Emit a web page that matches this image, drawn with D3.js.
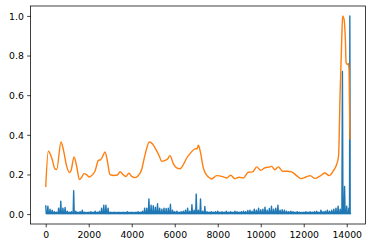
<!DOCTYPE html>
<html>
<head>
<meta charset="utf-8">
<script src="https://cdn.jsdelivr.net/npm/d3@7"></script>
<style>
    html, body { margin: 0; padding: 0; background: #fff; }
    svg { display: block; }
    .tick text { font-family: 'DejaVu Sans', sans-serif; font-size: 9.3px; fill: #000; }
</style>
</head>
<body>
<svg id="chart"></svg>
<script>
// blue series: peak per 100-step bin starting at 0
const blueStep = 100
const bluePeak = [
    0.045, 0.04, 0.025, 0.02, 0.012, 0.01, 0.03, 0.065, 0.03, 0.033,
    0.015, 0.01, 0.012, 0.118, 0.015, 0.01, 0.012, 0.02, 0.01, 0.008,
    0.01, 0.012, 0.01, 0.015, 0.01, 0.015, 0.03, 0.045, 0.045, 0.03,
    0.01, 0.008, 0.01, 0.008, 0.01, 0.008, 0.01, 0.008, 0.012, 0.008,
    0.01, 0.008, 0.01, 0.012, 0.01, 0.015, 0.03, 0.03, 0.076, 0.045,
    0.042, 0.035, 0.052, 0.03, 0.025, 0.03, 0.028, 0.03, 0.05, 0.02,
    0.012, 0.015, 0.01, 0.012, 0.015, 0.02, 0.03, 0.015, 0.047, 0.02,
    0.101, 0.02, 0.077, 0.015, 0.038, 0.012, 0.01, 0.012, 0.01, 0.012,
    0.015, 0.01, 0.012, 0.01, 0.015, 0.01, 0.012, 0.01, 0.015, 0.012,
    0.01, 0.012, 0.015, 0.012, 0.018, 0.02, 0.015, 0.025, 0.02, 0.03,
    0.022, 0.025, 0.035, 0.02, 0.028, 0.04, 0.025, 0.03, 0.045, 0.02,
    0.022, 0.02, 0.015, 0.012, 0.015, 0.012, 0.01, 0.012, 0.01, 0.008,
    0.01, 0.012, 0.01, 0.012, 0.01, 0.012, 0.015, 0.01, 0.02, 0.012,
    0.015, 0.02, 0.015, 0.02, 0.025, 0.03, 0.04, 0.025, 0.72, 0.14,
    0.04, 0.03
]
// typical level of the noise between the peaks, and its floor
const blueBase = 0.008
const blueFloor = 0.002
const blueTailX = [14130, 14145, 14155, 14160]
const blueTailY = [0.02, 1.0, 0.42, 0.01]

const orangeX = [
    0, 120, 280, 430, 510, 710, 820, 975, 1100, 1180, 1316, 1440, 1565, 1670,
    1780, 1900, 2030, 2180, 2290, 2450, 2560, 2650, 2760, 2870, 2990, 3170,
    3330, 3460, 3590, 3720, 3870, 4000, 4150, 4310, 4460, 4620, 4820, 4970,
    5130, 5285, 5390, 5550, 5670, 5780, 5940, 6090, 6250, 6400, 6560, 6740,
    6940, 7040, 7100, 7200, 7330, 7490, 7640, 7720, 7950, 8260, 8420, 8600,
    8800, 9000, 9190, 9420, 9630, 9810, 10000, 10200, 10430, 10510, 10660,
    10820, 11020, 11240, 11440, 11670, 11870, 12110, 12300, 12520, 12730,
    12980, 13190, 13380, 13530, 13620, 13690, 13770, 13810, 13880, 13940,
    13970, 14030, 14080, 14110, 14150
]
const orangeY = [
    0.137, 0.317, 0.283, 0.228, 0.225, 0.364, 0.325, 0.241, 0.21, 0.22, 0.288,
    0.241, 0.174, 0.185, 0.204, 0.199, 0.187, 0.199, 0.216, 0.271, 0.275,
    0.292, 0.314, 0.266, 0.199, 0.195, 0.197, 0.214, 0.2, 0.19, 0.206, 0.19,
    0.184, 0.195, 0.224, 0.3, 0.364, 0.354, 0.325, 0.292, 0.266, 0.271, 0.278,
    0.295, 0.253, 0.233, 0.229, 0.25, 0.283, 0.309, 0.329, 0.33, 0.347, 0.31,
    0.233, 0.195, 0.182, 0.177, 0.194, 0.188, 0.182, 0.196, 0.179, 0.186,
    0.182, 0.211, 0.213, 0.238, 0.221, 0.234, 0.238, 0.241, 0.224, 0.238,
    0.216, 0.216, 0.213, 0.194, 0.179, 0.187, 0.194, 0.18, 0.19, 0.207, 0.194,
    0.219, 0.25, 0.292, 0.6, 0.89, 1.0, 0.98, 0.87, 0.765, 0.755, 0.76, 0.72,
    0.376
]

const xTicks = [0, 2000, 4000, 6000, 8000, 10000, 12000, 14000]
const yTicks = [0.0, 0.2, 0.4, 0.6, 0.8, 1.0]

const width = 372
const height = 248
const margin = { top: 6, right: 6.5, bottom: 24, left: 30.5 }

const svg = d3
    .select('#chart')
    .attr('width', width)
    .attr('height', height)

// matplotlib style 5% margins around the data range
const xMax = 14165
const xScale = d3
    .scaleLinear()
    .domain([-0.05 * xMax, 1.05 * xMax])
    .range([margin.left, width - margin.right])

const yScale = d3
    .scaleLinear()
    .domain([-0.05, 1.05])
    .range([height - margin.bottom, margin.top])

// blue: zigzag peak -> floor -> base -> floor inside each bin so it reads dense
let bluePts = []
bluePeak.forEach((v, i) => {
    const x0 = i * blueStep
    bluePts.push([x0, v])
    bluePts.push([x0 + blueStep * 0.25, blueFloor])
    bluePts.push([x0 + blueStep * 0.5, Math.min(v, blueBase)])
    bluePts.push([x0 + blueStep * 0.75, blueFloor])
})
blueTailX.forEach((x, i) => bluePts.push([x, blueTailY[i]]))

const blueLine = d3
    .line()
    .x((d) => xScale(d[0]))
    .y((d) => yScale(d[1]))

svg.append('path')
    .datum(bluePts)
    .attr('fill', 'none')
    .attr('stroke', '#1f77b4')
    .attr('stroke-width', 1.4)
    .attr('stroke-linejoin', 'round')
    .attr('d', blueLine)

const orangeLine = d3
    .line()
    .x((d, i) => xScale(orangeX[i]))
    .y((d) => yScale(d))
    .curve(d3.curveMonotoneX)

svg.append('path')
    .datum(orangeY)
    .attr('fill', 'none')
    .attr('stroke', '#ff7f0e')
    .attr('stroke-width', 1.4)
    .attr('stroke-linejoin', 'round')
    .attr('d', orangeLine)

// axes
const xAxis = svg.append('g')
    .attr('transform', `translate(0, ${height - margin.bottom})`)
    .call(
        d3.axisBottom(xScale)
            .tickValues(xTicks)
            .tickFormat(d3.format('d'))
            .tickSize(3.3)
            .tickSizeOuter(0)
            .tickPadding(3.3)
    )

const yAxis = svg.append('g')
    .attr('transform', `translate(${margin.left}, 0)`)
    .call(
        d3.axisLeft(yScale)
            .tickValues(yTicks)
            .tickFormat(d3.format('.1f'))
            .tickSize(3.3)
            .tickSizeOuter(0)
            .tickPadding(3.3)
    )

svg.selectAll('.domain').remove()
svg.selectAll('.tick line').attr('stroke', '#000').attr('stroke-width', 0.75)
xAxis.selectAll('.tick text').attr('dy', '0.75em')
yAxis.selectAll('.tick text').attr('dy', '0.36em')

// frame
svg.append('rect')
    .attr('x', margin.left)
    .attr('y', margin.top)
    .attr('width', width - margin.left - margin.right)
    .attr('height', height - margin.top - margin.bottom)
    .attr('fill', 'none')
    .attr('stroke', '#000')
    .attr('stroke-width', 0.75)
</script>
</body>
</html>
